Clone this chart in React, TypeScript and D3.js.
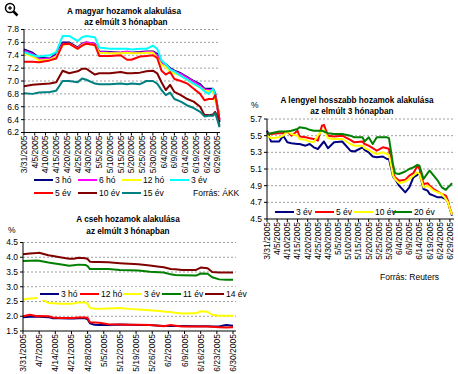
import React from "react";
import * as d3 from "d3";

// ---------- Hungarian yields ----------
const huDates = ["3/31","4/4","4/7","4/12","4/15","4/18","4/21","4/25","4/27","4/29","5/3","5/5","5/10","5/15","5/18","5/20","5/24","5/27","5/30","6/1","6/3","6/5","6/7","6/9","6/12","6/15","6/18","6/21","6/23","6/25","6/27","6/28","6/29","6/30"];
const hu3ho  = [7.49,7.44,7.36,7.35,7.42,7.60,7.60,7.52,7.58,7.60,7.58,7.46,7.45,7.44,7.45,7.44,7.45,7.46,7.46,7.42,7.30,7.26,7.20,7.16,7.12,7.06,7.00,6.95,6.88,6.88,6.88,6.80,6.62,6.36];
const hu6ho  = [7.47,7.42,7.34,7.34,7.40,7.58,7.58,7.51,7.57,7.60,7.58,7.45,7.44,7.44,7.46,7.44,7.44,7.45,7.45,7.40,7.29,7.25,7.19,7.15,7.11,7.05,6.99,6.93,6.87,6.86,6.86,6.76,6.58,6.40];
const hu12ho = [7.43,7.38,7.32,7.33,7.38,7.56,7.58,7.50,7.56,7.58,7.56,7.44,7.43,7.43,7.44,7.43,7.43,7.44,7.44,7.36,7.25,7.22,7.14,7.12,7.08,7.02,6.95,6.90,6.85,6.84,6.84,6.70,6.60,6.52];
const hu3ev  = [7.45,7.40,7.38,7.40,7.45,7.70,7.70,7.62,7.68,7.70,7.68,7.52,7.50,7.50,7.50,7.49,7.50,7.50,7.55,7.50,7.32,7.26,7.18,7.15,7.08,7.02,6.96,6.90,6.84,6.80,6.88,6.78,6.60,6.50];
const hu5ev  = [7.30,7.30,7.29,7.32,7.35,7.57,7.58,7.50,7.55,7.58,7.56,7.39,7.39,7.40,7.33,7.33,7.38,7.39,7.40,7.36,7.16,7.10,7.14,7.03,7.00,6.96,6.88,6.80,6.70,6.72,6.72,6.78,6.60,6.40];
const hu10ev = [6.92,6.94,6.95,6.96,6.98,7.16,7.12,7.15,7.19,7.19,7.10,7.12,7.12,7.14,7.12,7.12,7.13,7.15,7.16,7.12,6.98,6.86,6.94,6.83,6.78,6.72,6.68,6.60,6.47,6.47,6.48,6.52,6.45,6.30];
const hu15ev = [6.81,6.80,6.82,6.83,6.85,7.00,7.00,6.98,7.04,7.02,6.96,6.95,6.95,6.96,6.95,6.96,6.95,7.00,7.00,6.96,6.86,6.78,6.82,6.72,6.68,6.62,6.58,6.52,6.45,6.46,6.46,6.50,6.40,6.28];
const huNames = ["3 hó","6 hó","12 hó","3 év","5 év","10 év","15 év"];
const huColors = ["#000080","#ff00ff","#ffff00","#00ffff","#ff0000","#800000","#008080"];
const huYTicks = [6.2,6.4,6.6,6.8,7.0,7.2,7.4,7.6,7.8];
const huXTicks = ["3/31","4/5","4/10","4/15","4/20","4/25","4/30","5/5","5/10","5/15","5/20","5/25","5/30","6/4","6/9","6/14","6/19","6/24","6/29"];

// ---------- Polish yields ----------
const plDates = ["3/31","4/2","4/6","4/8","4/10","4/12","4/15","4/16","4/19","4/21","4/23","4/25","4/27","4/28","4/30","5/3","5/7","5/11","5/13","5/17","5/18","5/20","5/22","5/24","5/27","5/29","5/30","6/1","6/2","6/4","6/7","6/9","6/11","6/13","6/14","6/16","6/18","6/19","6/21","6/23","6/25","6/27","6/28","6/29","6/30"];
const pl3ev  = [5.56,5.43,5.43,5.50,5.42,5.41,5.40,5.40,5.38,5.40,5.36,5.34,5.40,5.43,5.35,5.42,5.43,5.32,5.31,5.36,5.33,5.30,5.25,5.24,5.25,5.22,5.22,5.01,4.98,4.90,4.82,4.88,5.00,5.03,5.05,4.86,4.84,4.80,4.78,4.76,4.76,4.74,4.70,4.62,4.54];
const pl5ev  = [5.53,5.52,5.53,5.53,5.55,5.50,5.56,5.49,5.48,5.47,5.46,5.44,5.62,5.63,5.50,5.49,5.50,5.45,5.42,5.43,5.40,5.38,5.35,5.32,5.36,5.35,5.34,5.05,5.00,4.96,4.97,5.02,5.05,5.14,5.10,4.92,4.93,4.90,4.86,4.83,4.80,4.78,4.72,4.62,4.56];
const pl10ev = [5.50,5.47,5.48,5.50,5.55,5.52,5.50,5.46,5.45,5.43,5.42,5.50,5.56,5.57,5.47,5.46,5.46,5.40,5.38,5.38,5.35,5.33,5.30,5.28,5.30,5.28,5.27,5.02,4.98,4.93,4.95,4.98,5.02,5.06,5.04,4.88,4.90,4.88,4.84,4.82,4.80,4.74,4.70,4.62,4.55];
const pl20ev = [5.52,5.53,5.55,5.55,5.55,5.56,5.58,5.60,5.59,5.57,5.56,5.56,5.56,5.55,5.53,5.52,5.52,5.50,5.48,5.48,5.43,5.48,5.40,5.48,5.48,5.48,5.47,5.15,5.05,5.04,5.07,5.10,5.12,5.15,5.14,4.98,5.05,5.08,5.02,4.96,4.88,4.85,4.88,4.90,4.93];
const plNames = ["3 év","5 év","10 év","20 év"];
const plColors = ["#000080","#ff0000","#ffff00","#008000"];
const plYTicks = [4.5,4.7,4.9,5.1,5.3,5.5,5.7];
const plXTicks = huXTicks;

// ---------- Czech yields ----------
const czDates = ["3/31","4/3","4/6","4/7","4/11","4/13","4/16","4/20","4/22","4/24","4/27","4/28","4/29","5/1","5/3","5/7","5/12","5/16","5/20","5/25","5/29","5/31","6/3","6/5","6/8","6/14","6/16","6/19","6/21","6/24","6/27","6/30"];
const cz3ho  = [1.97,1.98,1.98,1.98,1.97,1.93,1.93,1.92,1.92,1.93,1.93,1.90,1.76,1.71,1.70,1.70,1.72,1.71,1.70,1.70,1.68,1.67,1.67,1.67,1.67,1.66,1.66,1.66,1.65,1.65,1.70,1.68];
const cz12ho = [2.00,2.05,2.00,2.01,2.00,1.96,1.94,1.94,1.94,1.96,1.96,1.94,1.80,1.79,1.78,1.73,1.72,1.71,1.71,1.70,1.68,1.66,1.70,1.68,1.65,1.65,1.65,1.65,1.64,1.63,1.62,1.63];
const cz3ev  = [2.57,2.60,2.62,2.62,2.45,2.44,2.42,2.42,2.43,2.47,2.47,2.42,2.28,2.26,2.25,2.26,2.28,2.25,2.23,2.20,2.18,2.16,2.14,2.12,2.09,2.10,2.17,2.15,2.05,2.02,2.02,2.02];
const cz11ev = [3.87,3.88,3.89,3.88,3.82,3.80,3.76,3.71,3.73,3.75,3.74,3.70,3.60,3.60,3.60,3.60,3.57,3.56,3.55,3.51,3.49,3.48,3.42,3.40,3.39,3.38,3.45,3.44,3.32,3.25,3.24,3.24];
const cz14ev = [4.10,4.13,4.14,4.15,4.07,4.04,4.00,3.95,3.95,3.98,3.97,3.94,3.85,3.84,3.84,3.83,3.80,3.78,3.76,3.72,3.68,3.66,3.60,3.59,3.57,3.57,3.65,3.63,3.50,3.48,3.48,3.48];
const czNames = ["3 hó","12 hó","3 év","11 év","14 év"];
const czColors = ["#000080","#ff0000","#ffff00","#008000","#800000"];
const czYTicks = [1.5,2.0,2.5,3.0,3.5,4.0,4.5];
const czXTicks = ["3/31","4/7","4/14","4/21","4/28","5/5","5/12","5/19","5/26","6/2","6/9","6/16","6/23","6/30"];

const FONT = "'Liberation Sans', Arial, sans-serif";
const pd = (s: string) => {
  const [m, d] = s.split("/").map(Number);
  return new Date(2005, m - 1, d);
};
const fmtDate = (s: string) => s + "/2005";

type PanelProps = {
  dates: string[];
  series: number[][];
  names: string[];
  colors: string[];
  yTicks: number[];
  xTicks: string[];
  left: number; right: number; top: number; bottom: number; gridRight: number;
  legendItems: { x: number; y: number }[];
  legendBox?: [number, number, number, number];
};

function Panel(p: PanelProps) {
  const x = d3.scaleTime().domain([pd("3/31"), pd("6/30")]).range([p.left, p.right]);
  const y = d3.scaleLinear().domain([p.yTicks[0], p.yTicks[p.yTicks.length - 1]]).range([p.bottom, p.top]);
  const dts = p.dates.map(pd);
  const line = d3.line<number>().x((_, i) => x(dts[i])).y((v) => y(v));
  return (
    <g fontFamily={FONT}>
      {p.yTicks.slice(1).map((t) => (
        <line key={"g" + t} x1={p.left} x2={p.gridRight} y1={y(t)} y2={y(t)} stroke="#a0a0a0" strokeWidth={1} strokeDasharray="2 2" />
      ))}
      {p.yTicks.map((t) => (
        <g key={"y" + t}>
          <line x1={p.left - 3} x2={p.left} y1={y(t)} y2={y(t)} stroke="#000" />
          <text x={p.left - 5} y={y(t)} dy="0.35em" textAnchor="end" fontSize={8.5}>{t.toFixed(1)}</text>
        </g>
      ))}
      {p.series.map((s, i) => (
        <path key={"s" + i} d={line(s) || ""} fill="none" stroke={p.colors[i]} strokeWidth={2} strokeLinejoin="round" />
      ))}
      <line x1={p.left} x2={p.left} y1={p.top} y2={p.bottom} stroke="#000" />
      <line x1={p.left} x2={p.gridRight} y1={p.bottom} y2={p.bottom} stroke="#000" />
      {p.xTicks.map((t) => {
        const xx = x(pd(t));
        return (
          <g key={"x" + t}>
            <line x1={xx} x2={xx} y1={p.bottom} y2={p.bottom + 3} stroke="#000" />
            <text transform={`translate(${xx},${p.bottom + 3}) rotate(-90)`} dy="0.35em" textAnchor="end" fontSize={8.5}>{fmtDate(t)}</text>
          </g>
        );
      })}
      {p.legendBox && (
        <rect x={p.legendBox[0]} y={p.legendBox[1]} width={p.legendBox[2]} height={p.legendBox[3]} fill="#fff" />
      )}
      {p.names.map((n, i) => {
        const it = p.legendItems[i];
        return (
          <g key={"l" + n}>
            <line x1={it.x} x2={it.x + 19} y1={it.y} y2={it.y} stroke={p.colors[i]} strokeWidth={2} />
            <text x={it.x + 21} y={it.y} dy="0.35em" fontSize={8.5}>{n}</text>
          </g>
        );
      })}
    </g>
  );
}

export default function App() {
  return (
    <svg width={458} height={374} style={{ position: "absolute", left: 0, top: 0, background: "#fff" }}>
      <rect width={458} height={374} fill="#fff" />
      {/* magnifier icon */}
      <g stroke="#000" fill="none">
        <circle cx={10} cy={8} r={4.5} strokeWidth={1.5} fill="#fff" />
        <line x1={8} x2={12} y1={8} y2={8} strokeWidth={1.2} />
        <line x1={10} x2={10} y1={6} y2={10} strokeWidth={1.2} />
        <line x1={13.5} x2={17.5} y1={11.5} y2={15.5} strokeWidth={2.5} />
      </g>
      {/* Hungarian */}
      <g fontFamily={FONT} fontWeight="bold" fontSize={8.2} textAnchor="middle">
        <text x={124} y={14}>A magyar hozamok alakulása</text>
        <text x={126} y={25}>az elmúlt 3 hónapban</text>
      </g>
      <Panel
        dates={huDates}
        series={[hu3ho, hu6ho, hu12ho, hu3ev, hu5ev, hu10ev, hu15ev]}
        names={huNames}
        colors={huColors}
        yTicks={huYTicks}
        xTicks={huXTicks}
        left={24} right={219.5} top={29.5} bottom={132.5} gridRight={220}
        legendItems={[{ x: 34, y: 180 }, { x: 78, y: 180 }, { x: 122, y: 180 }, { x: 170, y: 180 }, { x: 34, y: 193 }, { x: 78, y: 193 }, { x: 122, y: 193 }]}
      />
      <text x={193} y={196} fontFamily={FONT} fontSize={8.5}>Forrás: ÁKK</text>

      {/* Polish */}
      <g fontFamily={FONT} fontWeight="bold" fontSize={8.2} textAnchor="middle">
        <text x={357} y={103}>A lengyel hosszabb hozamok alakulása</text>
        <text x={352} y={114}>az elmúlt 3 hónapban</text>
      </g>
      <text x={251} y={108} fontFamily={FONT} fontSize={8.5}>%</text>
      <Panel
        dates={plDates}
        series={[pl3ev, pl5ev, pl10ev, pl20ev]}
        names={plNames}
        colors={plColors}
        yTicks={plYTicks}
        xTicks={plXTicks}
        left={267} right={452} top={119} bottom={219} gridRight={454}
        legendBox={[272, 206, 166, 12]}
        legendItems={[{ x: 275, y: 212 }, { x: 315, y: 212 }, { x: 354, y: 212 }, { x: 393, y: 212 }]}
      />
      <text x={380} y={280} fontFamily={FONT} fontSize={8.5}>Forrás: Reuters</text>

      {/* Czech */}
      <g fontFamily={FONT} fontWeight="bold" fontSize={8.2} textAnchor="middle">
        <text x={128} y={222}>A cseh hozamok alakulása</text>
        <text x={128} y={234}>az elmúlt 3 hónapban</text>
      </g>
      <text x={8} y={233} fontFamily={FONT} fontSize={8.5}>%</text>
      <Panel
        dates={czDates}
        series={[cz3ho, cz12ho, cz3ev, cz11ev, cz14ev]}
        names={czNames}
        colors={czColors}
        yTicks={czYTicks}
        xTicks={czXTicks}
        left={23} right={233} top={242.5} bottom={331} gridRight={236}
        legendBox={[37, 287, 214, 13]}
        legendItems={[{ x: 40, y: 294 }, { x: 80, y: 294 }, { x: 123, y: 294 }, { x: 162, y: 294 }, { x: 205, y: 294 }]}
      />
    </svg>
  );
}
